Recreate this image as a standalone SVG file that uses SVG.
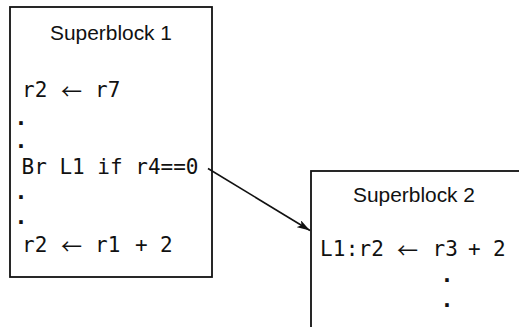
<svg xmlns="http://www.w3.org/2000/svg" width="519" height="327" viewBox="0 0 519 327">
<style>
.box{fill:#fff;stroke:#111;stroke-width:1.8}
.title{font-family:"Liberation Sans",Arial,sans-serif;font-size:20px;fill:#111;text-anchor:middle}
.code{font-family:"DejaVu Sans Mono",monospace;font-size:21px;fill:#111}
.arr{font-family:"Noto Sans CJK SC","DejaVu Sans",sans-serif;font-size:21px}
.dot{font-family:"DejaVu Sans Mono",monospace;font-size:21.5px;font-weight:bold;fill:#111;text-anchor:middle}
.conn{stroke:#111;stroke-width:1.6;fill:none}
</style>
<defs>
<marker id="ah" viewBox="0 0 13 8" refX="13" refY="4" markerWidth="13" markerHeight="8" markerUnits="userSpaceOnUse" orient="auto">
<path d="M0,0 L13,4 L0,8 L3,4 Z" fill="#111"/>
</marker>
</defs>
<rect width="519" height="327" fill="#fff"/>
<g id="superblock1">
<rect class="box" x="10" y="7" width="202" height="270"/>
<text class="title" x="111" y="39.5" textLength="122" lengthAdjust="spacingAndGlyphs">Superblock 1</text>
<text class="code" y="97"><tspan x="22">r2 </tspan><tspan class="arr" x="61" dy="2">← </tspan><tspan x="95" dy="-2">r7</tspan></text>
<text class="dot" x="21" y="125">.</text>
<text class="dot" x="21" y="148">.</text>
<text class="code" x="21.5" y="174">Br L1 if r4==0</text>
<text class="dot" x="21" y="199">.</text>
<text class="dot" x="21" y="224">.</text>
<text class="code" y="252"><tspan x="22">r2 </tspan><tspan class="arr" x="61" dy="2">← </tspan><tspan x="95" dy="-2">r1 </tspan><tspan x="135">+ </tspan><tspan x="160">2</tspan></text>
</g>
<g id="superblock2">
<rect class="box" x="311" y="171" width="260" height="200"/>
<text class="title" x="414" y="201.5" textLength="122" lengthAdjust="spacingAndGlyphs">Superblock 2</text>
<text class="code" y="256"><tspan x="320" textLength="64" lengthAdjust="spacing">L1:r2</tspan><tspan> </tspan><tspan class="arr" x="397" dy="2">← </tspan><tspan x="432.5" dy="-2">r3 </tspan><tspan x="468">+ </tspan><tspan x="493">2</tspan></text>
<text class="dot" x="447" y="281.5">.</text>
<text class="dot" x="447" y="306.5">.</text>
</g>
<g id="connectors">
<line class="conn" x1="208" y1="168.5" x2="310" y2="230.5" marker-end="url(#ah)"/>
</g>
</svg>
